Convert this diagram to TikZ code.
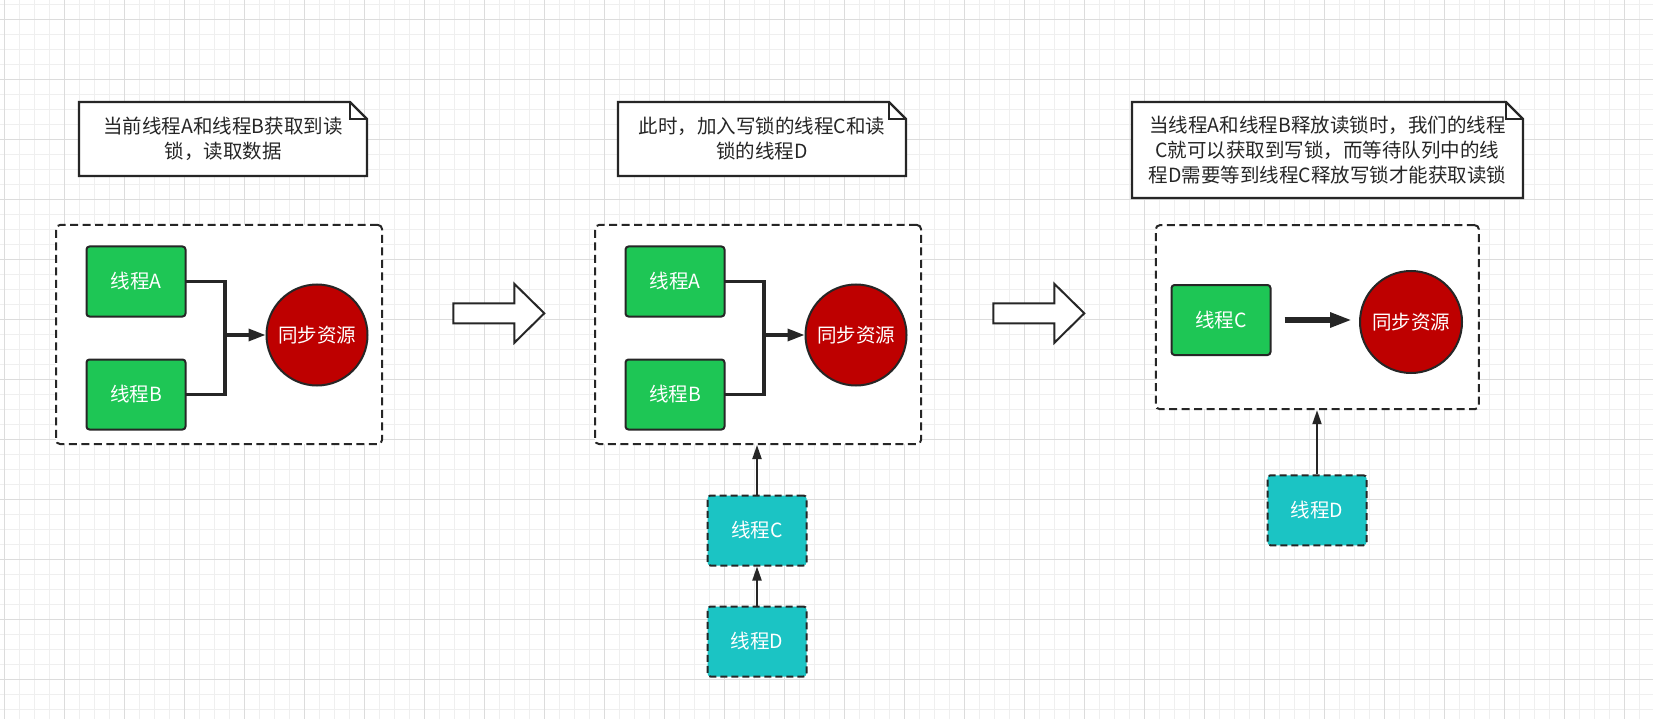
\documentclass[tikz,border=0pt]{standalone}
\usepackage{fontspec}
\setmainfont{Noto Sans CJK SC}
\usetikzlibrary{arrows.meta,calc}

\definecolor{gridminor}{HTML}{EFEFEF}
\definecolor{gridmajor}{HTML}{DCDCDC}
\definecolor{ink}{HTML}{262626}
\definecolor{thgreen}{HTML}{1EC655}
\definecolor{resred}{HTML}{BE0000}
\definecolor{waitcyan}{HTML}{1BC4C4}

\newcommand\diagfont{\fontsize{19.5}{25}\selectfont}

\tikzset{
  thread/.style={draw=ink, line width=2pt, rounded corners=3pt,
    minimum width=99pt, minimum height=70pt, inner sep=0pt,
    text=white, font=\diagfont},
  running/.style={thread, fill=thgreen},
  waiting/.style={thread, fill=waitcyan, dash pattern=on 7pt off 4pt},
  resource/.style={circle, draw=ink, line width=2pt, fill=resred,
    minimum size=101pt, inner sep=0pt, text=white, font=\diagfont},
  group/.style={draw=ink, line width=2pt, fill=white, rounded corners=4pt,
    dash pattern=on 8pt off 4.5pt, inner sep=0pt},
  notebox/.style={draw=ink, line width=2.3pt, fill=white, line join=miter},
  notefold/.style={draw=ink, line width=1.6pt},
  notetext/.style={align=center, text=ink, font=\diagfont, inner sep=0pt},
  bus/.style={draw=ink, line width=3.3pt, line cap=rect},
  link/.style={draw=ink, line width=3.3pt, -{Triangle[length=17pt,width=12pt]}},
  heavylink/.style={draw=ink, line width=5.7pt, -{Triangle[length=22pt,width=14pt]}},
  queue/.style={draw=ink, line width=2pt, -{Triangle[length=14pt,width=9pt]}},
  stagearrow/.style={draw=ink, line width=2pt, fill=white, line join=miter},
}

% note card with a folded top-right corner: name, x1, y1, x2, y2, text
\newcommand\notecard[6]{%
  \draw[notebox] (#2,#3) -- (#4-17,#3) -- (#4,#3+17) -- (#4,#5) -- (#2,#5) -- cycle;
  \draw[notefold] (#4-17,#3) -- (#4-17,#3+17) -- (#4,#3+17);
  \node[notetext] (#1) at ({(#2+#4)/2},{(#3+#5)/2}) {#6};
}

% hollow block arrow between stages, left end x0, centre line y0
\newcommand\stagearrow[2]{%
  \draw[stagearrow] (#1,#2-10) -- (#1+61,#2-10) -- (#1+61,#2-29.5) -- (#1+91,#2)
    -- (#1+61,#2+29.5) -- (#1+61,#2+10) -- (#1,#2+10) -- cycle;
}

\begin{document}
\begin{tikzpicture}[x=1pt, y=-1pt]
  \useasboundingbox (0,0) rectangle (1653,719);
  \fill[white] (0,0) rectangle (1653,719);

  % background grid
  \foreach \x in {4.3,19.3,...,1653} \draw[gridminor, line width=1pt] (\x,0) -- (\x,719);
  \foreach \y in {4.3,19.3,...,719} \draw[gridminor, line width=1pt] (0,\y) -- (1653,\y);
  \foreach \x in {4.3,64.3,...,1653} \draw[gridmajor, line width=1pt] (\x,0) -- (\x,719);
  \foreach \y in {19.3,79.3,...,719} \draw[gridmajor, line width=1pt] (0,\y) -- (1653,\y);

  % ---------- stage 1: A and B hold the read lock ----------
  \notecard{n1}{79}{102}{367}{176}{当前线程A和线程B获取到读\\锁，读取数据}
  \node[group, minimum width=326pt, minimum height=219pt] (g1) at (219,334.5) {};
  \node[running] (A1) at (136,281.5) {线程A};
  \node[running] (B1) at (136,394.5) {线程B};
  \node[resource] (R1) at (317,335) {同步资源};
  \coordinate (j1) at (225,335);
  \draw[bus] (A1.east) -| (j1);
  \draw[bus] (B1.east) -| (j1);
  \draw[link] (j1) -- (R1.west);

  \stagearrow{453.3}{313.3}

  % ---------- stage 2: C (write) and D (read) queue up ----------
  \notecard{n2}{618}{102}{906}{176}{此时，加入写锁的线程C和读\\锁的线程D}
  \node[group, minimum width=326pt, minimum height=219pt] (g2) at (758,334.5) {};
  \node[running] (A2) at (675,281.5) {线程A};
  \node[running] (B2) at (675,394.5) {线程B};
  \node[resource] (R2) at (856,335) {同步资源};
  \coordinate (j2) at (764,335);
  \draw[bus] (A2.east) -| (j2);
  \draw[bus] (B2.east) -| (j2);
  \draw[link] (j2) -- (R2.west);
  \node[waiting] (C2) at (757,530.5) {线程C};
  \node[waiting] (D2) at (757,641.5) {线程D};
  \draw[queue] (C2.north) -- (C2.north |- g2.south);
  \draw[queue] (D2.north) -- (C2.south);

  \stagearrow{993.3}{313.3}

  % ---------- stage 3: C holds the write lock, D waits ----------
  \notecard{n3}{1132}{102}{1523}{198}{当线程A和线程B释放读锁时，我们的线程\\C就可以获取到写锁，而等待队列中的线\\程D需要等到线程C释放写锁才能获取读锁}
  \node[group, minimum width=323pt, minimum height=184pt] (g3) at (1317.3,317.2) {};
  \node[running] (C3) at (1221,320) {线程C};
  \node[resource, minimum size=102pt] (R3) at (1411,322) {同步资源};
  \draw[heavylink, shorten <=13pt, shorten >=7pt] (C3.east) -- (C3.east -| R3.west);
  \node[waiting] (D3) at (1317,510.3) {线程D};
  \draw[queue] (D3.north) -- (D3.north |- g3.south);
\end{tikzpicture}
\end{document}
